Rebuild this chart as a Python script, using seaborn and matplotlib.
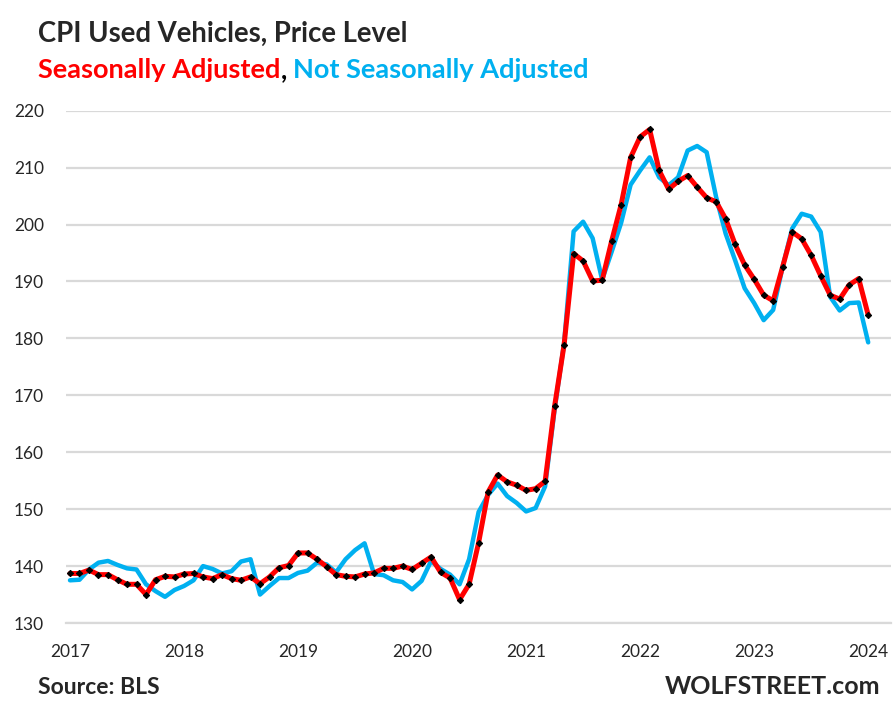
import numpy as np
import pandas as pd
import seaborn as sns
import matplotlib.pyplot as plt

# CPI used vehicles, monthly, Jan 2017 .. Jan 2024
sa = [138.7, 138.7, 139.3, 138.5, 138.5, 137.6, 136.8, 136.8, 135.0, 137.6, 138.2, 138.1,
      138.6, 138.7, 138.1, 137.8, 138.5, 137.8, 137.5, 138.1, 136.9, 138.1, 139.7, 140.1,
      142.3, 142.3, 141.2, 139.9, 138.5, 138.2, 138.1, 138.6, 138.8, 139.6, 139.6, 140.0,
      139.4, 140.5, 141.6, 138.9, 137.9, 134.1, 136.8, 144.1, 153.0, 156.0, 154.8, 154.2,
      153.3, 153.6, 154.9, 168.1, 178.9, 194.9, 193.6, 190.1, 190.2, 197.1, 203.5, 211.8,
      215.4, 216.7, 209.5, 206.2, 207.6, 208.6, 206.6, 204.7, 204.0, 201.0, 196.5, 192.9,
      190.4, 187.6, 186.6, 192.6, 198.7, 197.5, 194.6, 191.0, 187.6, 186.9, 189.4, 190.5,
      184.1]
nsa = [137.5, 137.6, 139.4, 140.6, 140.9, 140.2, 139.6, 139.4, 136.8, 135.6, 134.6, 135.8,
       136.5, 137.5, 140.0, 139.5, 138.7, 139.1, 140.8, 141.2, 135.0, 136.5, 137.9, 137.9,
       138.8, 139.2, 140.6, 140.3, 138.9, 141.2, 142.8, 144.0, 138.6, 138.4, 137.5, 137.2,
       135.9, 137.4, 140.9, 139.5, 138.5, 136.8, 141.2, 149.5, 152.5, 154.5, 152.3, 151.1,
       149.6, 150.2, 154.0, 167.5, 179.2, 198.8, 200.5, 197.6, 190.3, 195.2, 200.3, 207.0,
       209.5, 211.8, 208.3, 206.9, 208.3, 213.0, 213.8, 212.7, 204.8, 198.4, 193.7, 188.8,
       186.2, 183.2, 185.0, 192.6, 199.3, 201.9, 201.4, 198.7, 187.3, 184.9, 186.2, 186.3,
       179.3]
years = ['2017', '2018', '2019', '2020', '2021', '2022', '2023', '2024']
yticks = [130, 140, 150, 160, 170, 180, 190, 200, 210, 220]

df = pd.DataFrame({'month': np.arange(len(sa)), 'sa': sa, 'nsa': nsa})

sns.set_style('white')
plt.rcParams['font.family'] = ['Lato', 'DejaVu Sans']

RED = '#FF0000'
BLUE = '#00B0F0'

fig = plt.figure(figsize=(8.96, 7.12), dpi=100)
ax = fig.add_axes([66/896, 1-623/712, (891-66)/896, (623-110.7)/712])

sns.lineplot(data=df, x='month', y='nsa', color=BLUE, linewidth=3.2, ax=ax, zorder=3)
sns.lineplot(data=df, x='month', y='sa', color=RED, linewidth=3.6, ax=ax, zorder=4,
             marker='D', markersize=3.2, markerfacecolor='black', markeredgecolor='black')

ax.set_xlim(-0.42, 86.4)
ax.set_ylim(130, 220)
ax.set_yticks(yticks)
ax.set_yticklabels([str(v) for v in yticks], fontsize=12.5)
ax.set_xticks(np.arange(0, 85, 12))
ax.set_xticklabels(years, fontsize=12.5)
ax.set_xticks(np.arange(-0.42, 86.4, 1.0), minor=True)
ax.tick_params(axis='x', which='major', length=0, pad=15)
ax.tick_params(axis='x', which='minor', length=5, color='#D9D9D9', width=1.2, direction='out')
ax.tick_params(axis='y', length=0, pad=16)
ax.grid(axis='y', color='#D9D9D9', linewidth=1.6)
ax.set_axisbelow(True)
for s in ['top', 'right', 'left']:
    ax.spines[s].set_visible(False)
ax.spines['bottom'].set_color('#D9D9D9')
ax.spines['bottom'].set_linewidth(1.6)
ax.set_xlabel('')
ax.set_ylabel('')

fig.text(38/896, 1-34/712, 'CPI Used Vehicles, Price Level', fontsize=19.8, fontweight='bold',
         va='center', ha='left')
t1 = fig.text(38/896, 1-70/712, 'Seasonally Adjusted', fontsize=19.5, fontweight='bold',
              color=RED, va='center', ha='left')
fig.canvas.draw()
r = fig.canvas.get_renderer()
bb = t1.get_window_extent(r)
t2 = fig.text(bb.x1/896, 1-70/712, ',', fontsize=19.5, fontweight='bold', color='black',
              va='center', ha='left')
bb2 = t2.get_window_extent(r)
fig.text(bb2.x1/896 + 6/896, 1-70/712, 'Not Seasonally Adjusted', fontsize=19.5, fontweight='bold',
         color=BLUE, va='center', ha='left')

fig.text(38/896, 1-687/712, 'Source: BLS', fontsize=16.5, fontweight='bold', va='center', ha='left')
fig.text(880/896, 1-687/712, 'WOLFSTREET.com', fontsize=18, fontweight='bold', va='center', ha='right')

fig.savefig('out.png', dpi=100)
